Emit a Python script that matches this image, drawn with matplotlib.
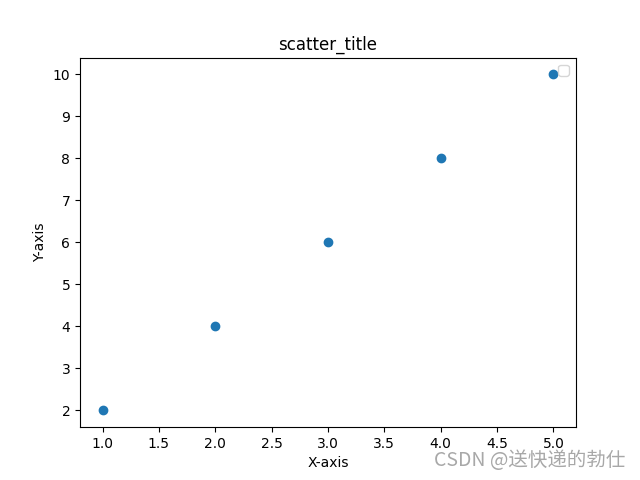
import matplotlib
matplotlib.use("Agg")
import matplotlib.pyplot as plt

x = [1, 2, 3, 4, 5]
y = [2, 4, 6, 8, 10]

fig, ax = plt.subplots(figsize=(6.4, 4.8), dpi=100)
ax.scatter(x, y)
ax.set_title("scatter_title")
ax.set_xlabel("X-axis")
ax.set_ylabel("Y-axis")
ax.legend(handles=[], labels=[])
fig.text(0.977, 0.04, "CSDN @送快递的勃仕", ha="right", va="center",
         fontsize=14, color="#a8a8a8",
         family=["Noto Sans CJK SC", "DejaVu Sans"])
fig.savefig("out.png")
